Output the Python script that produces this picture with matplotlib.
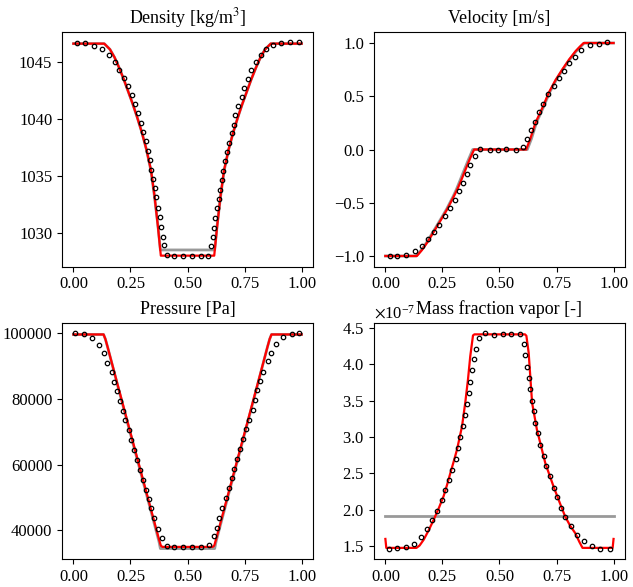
import matplotlib
matplotlib.use("Agg")
import matplotlib.pyplot as plt

plt.rcParams["font.family"] = "serif"
plt.rcParams["font.serif"] = ["Liberation Serif", "DejaVu Serif"]
plt.rcParams["mathtext.fontset"] = "stix"
plt.rcParams["font.size"] = 12
plt.rcParams["axes.titlesize"] = 13

# ---------------- Density ----------------
rho_mark_x = [0.016, 0.052, 0.092, 0.125, 0.154, 0.180, 0.201, 0.220, 0.237, 0.255,
              0.269, 0.284, 0.294, 0.306, 0.317, 0.328, 0.336, 0.342, 0.349, 0.357,
              0.364, 0.371, 0.378, 0.384, 0.392, 0.399, 0.410, 0.441, 0.480, 0.521,
              0.558, 0.591, 0.603, 0.610, 0.617, 0.622, 0.629, 0.636, 0.642, 0.649,
              0.656, 0.664, 0.672, 0.681, 0.693, 0.703, 0.710, 0.722, 0.737, 0.748,
              0.763, 0.780, 0.799, 0.821, 0.846, 0.875, 0.911, 0.948, 0.987]
rho_mark_y = [1046.68, 1046.68, 1046.42, 1046.10, 1045.61, 1045.03, 1044.30, 1043.57, 1042.85, 1042.06,
              1041.31, 1040.52, 1039.65, 1038.84, 1038.02, 1037.21, 1036.37, 1035.52, 1034.71, 1033.93,
              1033.11, 1032.21, 1031.37, 1030.49, 1029.62, 1028.90, 1028.08, 1027.97, 1027.97, 1028.00,
              1028.00, 1028.00, 1028.84, 1029.68, 1030.41, 1031.28, 1032.15, 1032.97, 1033.78, 1034.65,
              1035.44, 1036.31, 1037.09, 1037.91, 1038.72, 1039.50, 1040.32, 1041.10, 1041.92, 1042.70,
              1043.52, 1044.30, 1045.03, 1045.61, 1046.10, 1046.48, 1046.68, 1046.71, 1046.71]
rho_red_x = [0.0, 0.135, 0.16, 0.18, 0.20, 0.22, 0.24, 0.26, 0.28, 0.30, 0.32, 0.34, 0.355, 0.37, 0.383,
             0.617, 0.630, 0.645, 0.66, 0.68, 0.70, 0.72, 0.74, 0.76, 0.78, 0.80, 0.82, 0.84, 0.865, 1.0]
rho_red_y = [1046.6, 1046.6, 1046.1, 1045.4, 1044.5, 1043.5, 1042.4, 1041.3, 1040.1, 1038.8, 1037.3,
             1035.5, 1033.3, 1030.6, 1028.0, 1028.0, 1030.6, 1033.3, 1035.5, 1037.3, 1038.8, 1040.1,
             1041.3, 1042.4, 1043.5, 1044.5, 1045.4, 1046.1, 1046.6, 1046.6]
rho_gray_x = [0.0, 0.135, 0.16, 0.18, 0.20, 0.22, 0.24, 0.26, 0.28, 0.30, 0.32, 0.34, 0.355, 0.37, 0.381,
              0.619, 0.630, 0.645, 0.66, 0.68, 0.70, 0.72, 0.74, 0.76, 0.78, 0.80, 0.82, 0.84, 0.865, 1.0]
rho_gray_y = [1046.6, 1046.6, 1046.1, 1045.4, 1044.5, 1043.5, 1042.4, 1041.3, 1040.1, 1038.8, 1037.3,
              1035.4, 1033.2, 1030.7, 1028.5, 1028.5, 1030.7, 1033.2, 1035.4, 1037.3, 1038.8, 1040.1,
              1041.3, 1042.4, 1043.5, 1044.5, 1045.4, 1046.1, 1046.6, 1046.6]
rho_ticks = [1030, 1035, 1040, 1045]

# ---------------- Velocity ----------------
u_mark_x = [0.021, 0.050, 0.092, 0.130, 0.160, 0.188, 0.214, 0.237, 0.261, 0.283,
            0.303, 0.322, 0.341, 0.358, 0.370, 0.392, 0.414, 0.457, 0.494, 0.530,
            0.574, 0.604, 0.622, 0.639, 0.654, 0.673, 0.692, 0.713, 0.738, 0.760,
            0.782, 0.805, 0.831, 0.859, 0.895, 0.935, 0.972]
u_mark_y = [-1.000, -1.000, -0.988, -0.956, -0.907, -0.841, -0.776, -0.707, -0.629, -0.551,
            -0.477, -0.393, -0.312, -0.230, -0.146, -0.065, 0.003, 0.000, 0.000, 0.003,
            -0.009, 0.028, 0.103, 0.187, 0.262, 0.352, 0.430, 0.517, 0.595, 0.667,
            0.741, 0.810, 0.869, 0.931, 0.978, 0.994, 1.006]
u_red_x = [0.0, 0.138, 0.16, 0.185, 0.21, 0.229, 0.25, 0.272, 0.30, 0.316, 0.335, 0.352, 0.37, 0.389,
           0.617, 0.635, 0.658, 0.69, 0.716, 0.745, 0.775, 0.805, 0.833, 0.852, 0.869, 1.0]
u_red_y = [-1.0, -1.0, -0.945, -0.869, -0.78, -0.713, -0.637, -0.557, -0.44, -0.371, -0.275, -0.184,
           -0.09, 0.0, 0.0, 0.10, 0.252, 0.40, 0.533, 0.65, 0.751, 0.845, 0.922, 0.965, 1.0, 1.0]
u_gray_x = [0.0, 0.135, 0.157, 0.182, 0.207, 0.226, 0.247, 0.269, 0.297, 0.312, 0.330, 0.347, 0.365, 0.383,
            0.622, 0.640, 0.662, 0.693, 0.719, 0.748, 0.778, 0.808, 0.836, 0.855, 0.872, 1.0]
u_gray_y = u_red_y
u_ticks = [-1.0, -0.5, 0.0, 0.5, 1.0]

# ---------------- Pressure ----------------
p_mark_x = [0.009, 0.047, 0.083, 0.112, 0.133, 0.149, 0.167, 0.178, 0.191, 0.205,
            0.216, 0.228, 0.243, 0.254, 0.266, 0.279, 0.291, 0.304, 0.317, 0.330,
            0.342, 0.352, 0.371, 0.386, 0.409, 0.441, 0.481, 0.520, 0.558, 0.595,
            0.614, 0.627, 0.639, 0.653, 0.667, 0.681, 0.693, 0.705, 0.718, 0.732,
            0.744, 0.757, 0.769, 0.785, 0.795, 0.805, 0.819, 0.832, 0.851, 0.865,
            0.887, 0.917, 0.956, 0.990]
p_mark_y = [100000, 99790, 98760, 96620, 93960, 91100, 88240, 85270, 82410, 79350,
            76480, 73520, 70650, 67380, 64520, 61450, 58390, 55320, 52250, 49490,
            46630, 43570, 40500, 37740, 35280, 34880, 34880, 34880, 34880, 35390,
            38150, 40800, 43770, 46830, 49800, 52870, 55830, 58700, 61860, 64720,
            67790, 70860, 73720, 76690, 79650, 82720, 85580, 88340, 91510, 94160,
            96920, 98860, 99790, 100000]
p_red_x = [0.0, 0.132, 0.14, 0.15, 0.20, 0.25, 0.30, 0.35, 0.375, 0.383, 0.39,
           0.61, 0.617, 0.625, 0.65, 0.70, 0.75, 0.80, 0.85, 0.86, 0.868, 1.0]
p_red_y = [99700, 99700, 98300, 95800, 82700, 69700, 56700, 43700, 37200, 35300, 34900,
           34900, 35300, 37200, 43700, 56700, 69700, 82700, 95800, 98300, 99700, 99700]
p_gray_x = [0.0, 0.132, 0.14, 0.15, 0.20, 0.25, 0.30, 0.35, 0.375, 0.381,
            0.619, 0.625, 0.65, 0.70, 0.75, 0.80, 0.85, 0.86, 0.868, 1.0]
p_gray_y = [99700, 99700, 98300, 95800, 82500, 69300, 56200, 43100, 36500, 34400,
            34400, 36500, 43100, 56200, 69300, 82500, 95800, 98300, 99700, 99700]
p_ticks = [40000, 60000, 80000, 100000]

# ---------------- Mass fraction vapor ----------------
y_mark_x = [0.015, 0.051, 0.089, 0.124, 0.156, 0.183, 0.204, 0.228, 0.247, 0.261,
            0.277, 0.292, 0.310, 0.317, 0.327, 0.339, 0.350, 0.358, 0.366, 0.372,
            0.380, 0.387, 0.397, 0.409, 0.438, 0.475, 0.514, 0.552, 0.588, 0.606,
            0.613, 0.621, 0.628, 0.632, 0.642, 0.650, 0.657, 0.669, 0.679, 0.694,
            0.705, 0.720, 0.737, 0.752, 0.769, 0.788, 0.815, 0.840, 0.869, 0.905,
            0.942, 0.983]
y_mark_y = [1.468, 1.473, 1.486, 1.537, 1.624, 1.738, 1.862, 1.990, 2.128, 2.270,
            2.407, 2.553, 2.700, 2.847, 2.998, 3.149, 3.300, 3.460, 3.607, 3.753,
            3.914, 4.065, 4.211, 4.363, 4.422, 4.408, 4.418, 4.418, 4.418, 4.271,
            4.124, 3.964, 3.813, 3.662, 3.501, 3.355, 3.195, 3.057, 2.897, 2.746,
            2.608, 2.462, 2.302, 2.173, 2.027, 1.903, 1.775, 1.660, 1.569, 1.500,
            1.468, 1.468]
y_red_x = [0.0, 0.004, 0.136, 0.15, 0.168, 0.19, 0.212, 0.235, 0.255, 0.27, 0.285, 0.30, 0.314,
           0.336, 0.350, 0.362, 0.372, 0.384, 0.39,
           0.612, 0.618, 0.628, 0.643, 0.664, 0.701, 0.737, 0.765, 0.788, 0.81, 0.832, 0.85, 0.864,
           0.996, 1.0]
y_red_y = [1.60, 1.477, 1.477, 1.51, 1.59, 1.72, 1.865, 2.03, 2.186, 2.34, 2.507, 2.67, 2.828,
           3.149, 3.47, 3.79, 4.11, 4.395, 4.41,
           4.41, 4.39, 4.156, 3.47, 3.103, 2.64, 2.32, 2.09, 1.907, 1.78, 1.68, 1.56, 1.477,
           1.477, 1.60]
y_gray_x = [0.0, 1.0]
y_gray_y = [1.92, 1.92]
y_scale = 1e-7
y_ticks = [1.5, 2.0, 2.5, 3.0, 3.5, 4.0, 4.5]

x_ticks = [0.0, 0.25, 0.5, 0.75, 1.0]


def draw_panel(ax, title, mx, my, rx, ry, gx, gy, yt):
    # 灰色 → 赤 → 黒丸 の順に重ねる
    ax.plot(gx, gy, color="#999999", lw=2.0)
    ax.plot(rx, ry, color="red", lw=1.6)
    ax.plot(mx, my, ls="none", marker="o", ms=3.2, mfc="none", mec="black", mew=0.9)
    ax.set_title(title)
    ax.set_xticks(x_ticks)
    ax.set_yticks(yt)


fig = plt.figure(figsize=(6.33, 5.87), dpi=100)
ax1 = fig.add_axes([0.098, 0.5457, 0.3965, 0.4003])
ax2 = fig.add_axes([0.5908, 0.5457, 0.3965, 0.4003])
ax3 = fig.add_axes([0.098, 0.0472, 0.3965, 0.403])
ax4 = fig.add_axes([0.5908, 0.0472, 0.3965, 0.403])

draw_panel(ax1, "Density [kg/m$^3$]", rho_mark_x, rho_mark_y, rho_red_x, rho_red_y,
           rho_gray_x, rho_gray_y, rho_ticks)
draw_panel(ax2, "Velocity [m/s]", u_mark_x, u_mark_y, u_red_x, u_red_y,
           u_gray_x, u_gray_y, u_ticks)
draw_panel(ax3, "Pressure [Pa]", p_mark_x, p_mark_y, p_red_x, p_red_y,
           p_gray_x, p_gray_y, p_ticks)
draw_panel(ax4, "Mass fraction vapor [-]",
           y_mark_x, [v * y_scale for v in y_mark_y],
           y_red_x, [v * y_scale for v in y_red_y],
           y_gray_x, [v * y_scale for v in y_gray_y],
           [v * y_scale for v in y_ticks])
ax4.ticklabel_format(axis="y", style="sci", scilimits=(0, 0), useMathText=True)

fig.savefig("out.png", dpi=100)
